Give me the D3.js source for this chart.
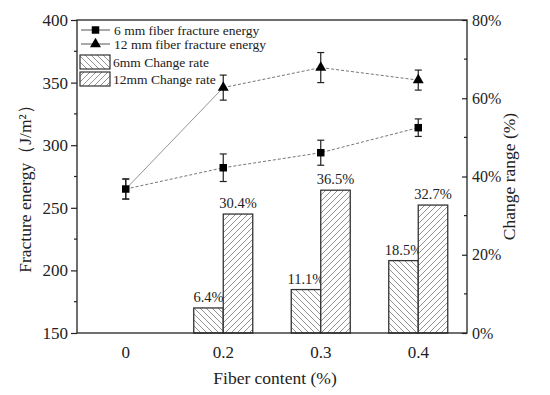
<!DOCTYPE html>
<html>
<head>
<meta charset="utf-8">
<script src="https://cdn.jsdelivr.net/npm/d3@7"></script>
<style>
  body { margin: 0; background: #fff; }
  svg text { font-family: "Liberation Serif", "Times New Roman", serif; fill: #222; }
</style>
</head>
<body>
<div id="chart"></div>
<script>
// chart data
const categories = ["0", "0.2", "0.3", "0.4"];
const energy6 = [265, 282, 294, 314];
const err6 = [8, 11, 10, 7];
const energy12 = [265, 346, 362, 352];
const err12 = [8, 10, 12, 8];
const rate6 = [null, 6.4, 11.1, 18.5];
const rate12 = [null, 30.4, 36.5, 32.7];
const leftTicks = [150, 200, 250, 300, 350, 400];
const rightTicks = [0, 20, 40, 60, 80];

const WIDTH = 550, HEIGHT = 395;
const MARGINS = {left: 77, right: 83, top: 20, bottom: 62};
const X0 = MARGINS.left, X1 = WIDTH - MARGINS.right;
const Y0 = HEIGHT - MARGINS.bottom, Y1 = MARGINS.top;

const svg = d3.select("#chart").append("svg")
  .attr("width", WIDTH).attr("height", HEIGHT);

// hatch patterns
const defs = svg.append("defs");
function hatch(id, dir) {
  const p = defs.append("pattern").attr("id", id)
    .attr("patternUnits", "userSpaceOnUse").attr("width", 6).attr("height", 6);
  p.append("rect").attr("width", 6).attr("height", 6).attr("fill", "#fff");
  const d = dir > 0 ? "M-1,7 L7,-1 M-4,4 L4,-4 M2,10 L10,2" : "M-1,-1 L7,7 M-4,2 L2,8 M4,-2 L10,4";
  p.append("path").attr("d", d).attr("stroke", "#777").attr("stroke-width", 0.8);
}
hatch("h6", -1);
hatch("h12", 1);

const X = d3.scaleBand().domain(categories).range([X0, X1]);
const Y = d3.scaleLinear().domain([150, 400]).range([Y0, Y1]);
const R = d3.scaleLinear().domain([0, 80]).range([Y0, Y1]);
const cx = (c) => X(c) + X.bandwidth() / 2;
const BW = 29.5;

// bars
const bars = svg.append("g");
categories.forEach((c, i) => {
  if (rate6[i] == null) return;
  [[rate6[i], cx(c) - BW, "h6"], [rate12[i], cx(c), "h12"]].forEach(([v, x, pat]) => {
    bars.append("rect")
      .attr("x", x).attr("y", R(v)).attr("width", BW).attr("height", Y0 - R(v))
      .attr("fill", `url(#${pat})`).attr("stroke", "#333").attr("stroke-width", 1.3);
    bars.append("text")
      .attr("x", x + BW / 2).attr("y", R(v) - 6)
      .attr("text-anchor", "middle").attr("font-size", 14.5)
      .text(v.toFixed(1) + "%");
  });
});

// lines
const pts6 = categories.map((c, i) => [cx(c), Y(energy6[i])]);
const pts12 = categories.map((c, i) => [cx(c), Y(energy12[i])]);
const line = d3.line();
svg.append("path").attr("d", line(pts6))
  .attr("fill", "none").attr("stroke", "#666").attr("stroke-width", 0.9).attr("stroke-dasharray", "3,2");
svg.append("path").attr("d", line(pts12.slice(0, 2)))
  .attr("fill", "none").attr("stroke", "#888").attr("stroke-width", 0.9);
svg.append("path").attr("d", line(pts12.slice(1)))
  .attr("fill", "none").attr("stroke", "#666").attr("stroke-width", 0.9).attr("stroke-dasharray", "3,2");

// error bars
function errBars(vals, errs) {
  categories.forEach((c, i) => {
    const x = cx(c), t = Y(vals[i] + errs[i]), b = Y(vals[i] - errs[i]);
    const g = svg.append("g").attr("stroke", "#222").attr("stroke-width", 1.2);
    g.append("line").attr("x1", x).attr("x2", x).attr("y1", t).attr("y2", b);
    g.append("line").attr("x1", x - 3.5).attr("x2", x + 3.5).attr("y1", t).attr("y2", t);
    g.append("line").attr("x1", x - 3.5).attr("x2", x + 3.5).attr("y1", b).attr("y2", b);
  });
}
errBars(energy6, err6);
errBars(energy12, err12);

const sq = d3.symbol().type(d3.symbolSquare).size(56);
const tri = d3.symbol().type(d3.symbolTriangle).size(52);
svg.selectAll(".p12").data(pts12.slice(1)).enter().append("path")
  .attr("d", tri).attr("transform", (d) => `translate(${d[0]},${d[1]})`).attr("fill", "#000");
svg.selectAll(".p6").data(pts6).enter().append("path")
  .attr("d", sq).attr("transform", (d) => `translate(${d[0]},${d[1]})`).attr("fill", "#000");

// frame
svg.append("rect").attr("x", X0).attr("y", Y1).attr("width", X1 - X0).attr("height", Y0 - Y1)
  .attr("fill", "none").attr("stroke", "#222").attr("stroke-width", 1.3);

// left axis
const yAxis = d3.axisLeft(Y).tickValues(leftTicks).tickSize(6).tickPadding(3);
const gl = svg.append("g").attr("transform", `translate(${X0},0)`).call(yAxis);
gl.select(".domain").remove();
gl.selectAll("text").attr("font-size", 17).attr("fill", "#222");
gl.selectAll("line").attr("stroke", "#222").attr("stroke-width", 1.2);
d3.range(175, 400, 50).forEach((v) => {
  svg.append("line").attr("x1", X0 - 3).attr("x2", X0).attr("y1", Y(v)).attr("y2", Y(v))
    .attr("stroke", "#222").attr("stroke-width", 1.2);
});

// right axis (ticks inward)
const rAxis = d3.axisRight(R).tickValues(rightTicks).tickFormat((d) => d + "%").tickSize(-5).tickPadding(5);
const gr = svg.append("g").attr("transform", `translate(${X1},0)`).call(rAxis);
gr.select(".domain").remove();
gr.selectAll("text").attr("font-size", 16).attr("fill", "#222").attr("text-anchor", "start");
gr.selectAll("line").attr("stroke", "#222").attr("stroke-width", 1.2);
d3.range(10, 80, 20).forEach((v) => {
  svg.append("line").attr("x1", X1 - 3).attr("x2", X1).attr("y1", R(v)).attr("y2", R(v))
    .attr("stroke", "#222").attr("stroke-width", 1.2);
});

// bottom labels
const xAxis = d3.axisBottom(X).tickSize(0).tickPadding(13);
const gb = svg.append("g").attr("transform", `translate(0,${Y0})`).call(xAxis);
gb.select(".domain").remove();
gb.selectAll("text").attr("font-size", 17).attr("fill", "#222");

// axis titles
svg.append("text").attr("x", (X0 + X1) / 2 + 3).attr("y", 384)
  .attr("text-anchor", "middle").attr("font-size", 17.5).text("Fiber content (%)");
svg.append("text").attr("transform", `translate(31,${(Y0 + Y1) / 2 + 8}) rotate(-90)`)
  .attr("text-anchor", "middle").attr("font-size", 17.5).text("Fracture energy（J/m²）");
svg.append("text").attr("transform", `translate(515,${(Y0 + Y1) / 2}) rotate(-90)`)
  .attr("text-anchor", "middle").attr("font-size", 17.5).text("Change range (%)");

// legend
const lg = svg.append("g").attr("font-size", 13.5);
[["6 mm fiber fracture energy", sq, 30], ["12 mm fiber fracture energy", tri, 44]].forEach(([t, sym, y]) => {
  lg.append("line").attr("x1", 81).attr("x2", 110).attr("y1", y).attr("y2", y)
    .attr("stroke", "#555").attr("stroke-width", 1);
  lg.append("path").attr("d", sym).attr("transform", `translate(95.5,${y})`).attr("fill", "#000");
  lg.append("text").attr("x", 114).attr("y", y + 4.5).text(t);
});
[["6mm Change rate", "h6", 55], ["12mm Change rate", "h12", 72]].forEach(([t, pat, y]) => {
  lg.append("rect").attr("x", 80).attr("y", y).attr("width", 30).attr("height", 14)
    .attr("fill", `url(#${pat})`).attr("stroke", "#333").attr("stroke-width", 1.2);
  lg.append("text").attr("x", 113).attr("y", y + 11.5).text(t);
});
</script>
</body>
</html>
